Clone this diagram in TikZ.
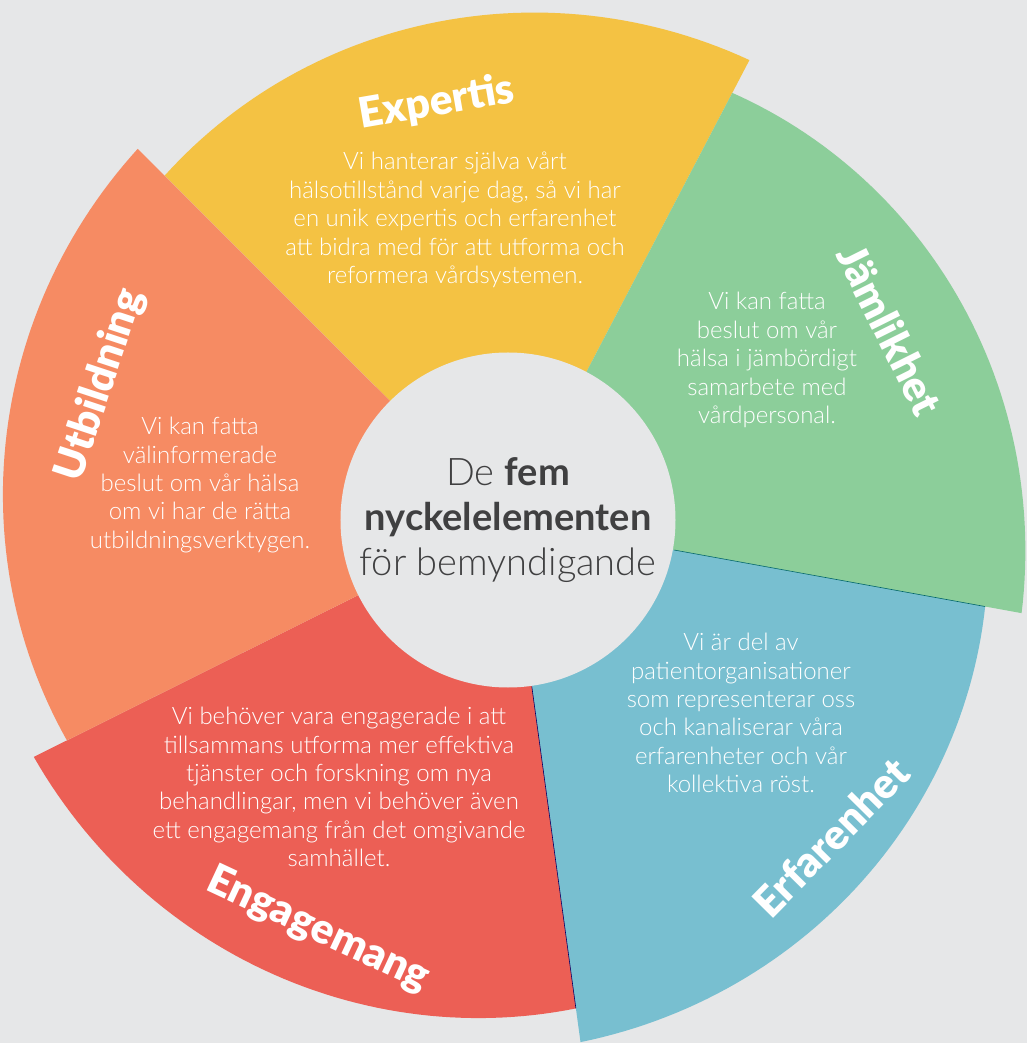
\documentclass[tikz,border=0pt]{standalone}
\usepackage{fontspec}
\IfFontExistsTF{Lato Light}{\newfontfamily\bodyfont{Lato Light}}{%
  \IfFontExistsTF{Lato-Light}{\newfontfamily\bodyfont{Lato-Light}}{%
    \IfFontExistsTF{Fira Sans Light}{\newfontfamily\bodyfont{Fira Sans Light}}{%
      \IfFontExistsTF{FiraSans-Light}{\newfontfamily\bodyfont{FiraSans-Light}}{\newfontfamily\bodyfont{Lato}}}}}
\newfontfamily\latofont{Lato}
\IfFontExistsTF{Lato Black}{\newfontfamily\titlefont{Lato Black}}{%
  \IfFontExistsTF{Lato-Black}{\newfontfamily\titlefont{Lato-Black}}{\newcommand\titlefont{\latofont\bfseries}}}
\definecolor{bggray}{HTML}{E6E7E8}
\definecolor{yellowc}{HTML}{F4C243}
\definecolor{greenc}{HTML}{8CCE9A}
\definecolor{bluec}{HTML}{78BFD0}
\definecolor{redc}{HTML}{EC5F55}
\definecolor{orangec}{HTML}{F68B63}
\definecolor{hubtext}{HTML}{404041}
\begin{document}
\begin{tikzpicture}[x=1pt,y=1pt,
    title/.style={text=white,inner sep=0pt,font=\titlefont\fontsize{42}{44}\selectfont},
    body/.style={text=white,inner sep=0pt,align=center,font=\bodyfont\fontsize{24}{28.4}\selectfont}]
    \fill[bggray] (-509,-523) rectangle (518,520);
    \useasboundingbox (-509,-523) rectangle (518,520);
    \fill[yellowc] (0,0) -- plot[domain=0:72.6,samples=60] ({135-\x}:{487+32*\x/72.6}) -- cycle;
    \fill[greenc] (0,0) -- plot[domain=0:72.7,samples=60] ({62.4-\x}:{482+39*\x/72.7}) -- cycle;
    \fill[bluec] (0,0) -- plot[domain=0:71.9,samples=60] ({-10.3-\x}:{484+43*\x/71.9}) -- cycle;
    \fill[redc] (0,0) -- plot[domain=0:71.3,samples=60] ({-82.2-\x}:{493+38*\x/71.3}) -- cycle;
    \fill[orangec] (0,0) -- plot[domain=0:71.5,samples=60] ({206.5-\x}:{494+31*\x/71.5}) -- cycle;
    \draw[teal!80!black,line width=0.6pt] (-10.3:168) -- (-10.3:484);
    \draw[blue!40!black,line width=0.6pt] (-82.2:168) -- (-82.2:493);
    \node[circle,fill=bggray,minimum size=335pt,inner sep=0pt,align=center,text=hubtext,
        font=\bodyfont\fontsize{38}{45}\selectfont] (hub) at (-1,0)
        {De {\latofont\bfseries fem}\\{\latofont\bfseries nyckelelementen}\\för bemyndigande};
    \node[title,rotate=9.8] (expertis) at (99.8:423) {Expertis};
    \node[title,rotate=-63.5] (jamlikhet) at (26.5:426) {Jämlikhet};
    \node[title,rotate=45.4] (erfarenhet) at (-44.6:452) {Erfarenhet};
    \node[title,rotate=-25] (engagemang) at (245:452) {Engagemang};
    \node[title,rotate=71.7] (utbildning) at (161.7:430) {Utbildning};
    \node[body] (expertistext) at (-54,300) {Vi hanterar själva vårt\\hälsotillstånd varje dag, så vi har\\en unik expertis och erfarenhet\\att bidra med för att utforma och\\reformera vårdsystemen.};
    \node[body] (jamlikhettext) at (258,160) {Vi kan fatta\\beslut om vår\\hälsa i jämbördigt\\samarbete med\\vårdpersonal.};
    \node[body] (erfarenhettext) at (232,-193) {Vi är del av\\patientorganisationer\\som representerar oss\\och kanaliserar våra\\erfarenheter och vår\\kollektiva röst.};
    \node[body] (engagemangtext) at (-170,-267) {Vi behöver vara engagerade i att\\tillsammans utforma mer effektiva\\tjänster och forskning om nya\\behandlingar, men vi behöver även\\ett engagemang från det omgivande\\samhället.};
    \node[body] (utbildningtext) at (-309,35) {Vi kan fatta\\välinformerade\\beslut om vår hälsa\\om vi har de rätta\\utbildningsverktygen.};
\end{tikzpicture}
\end{document}
